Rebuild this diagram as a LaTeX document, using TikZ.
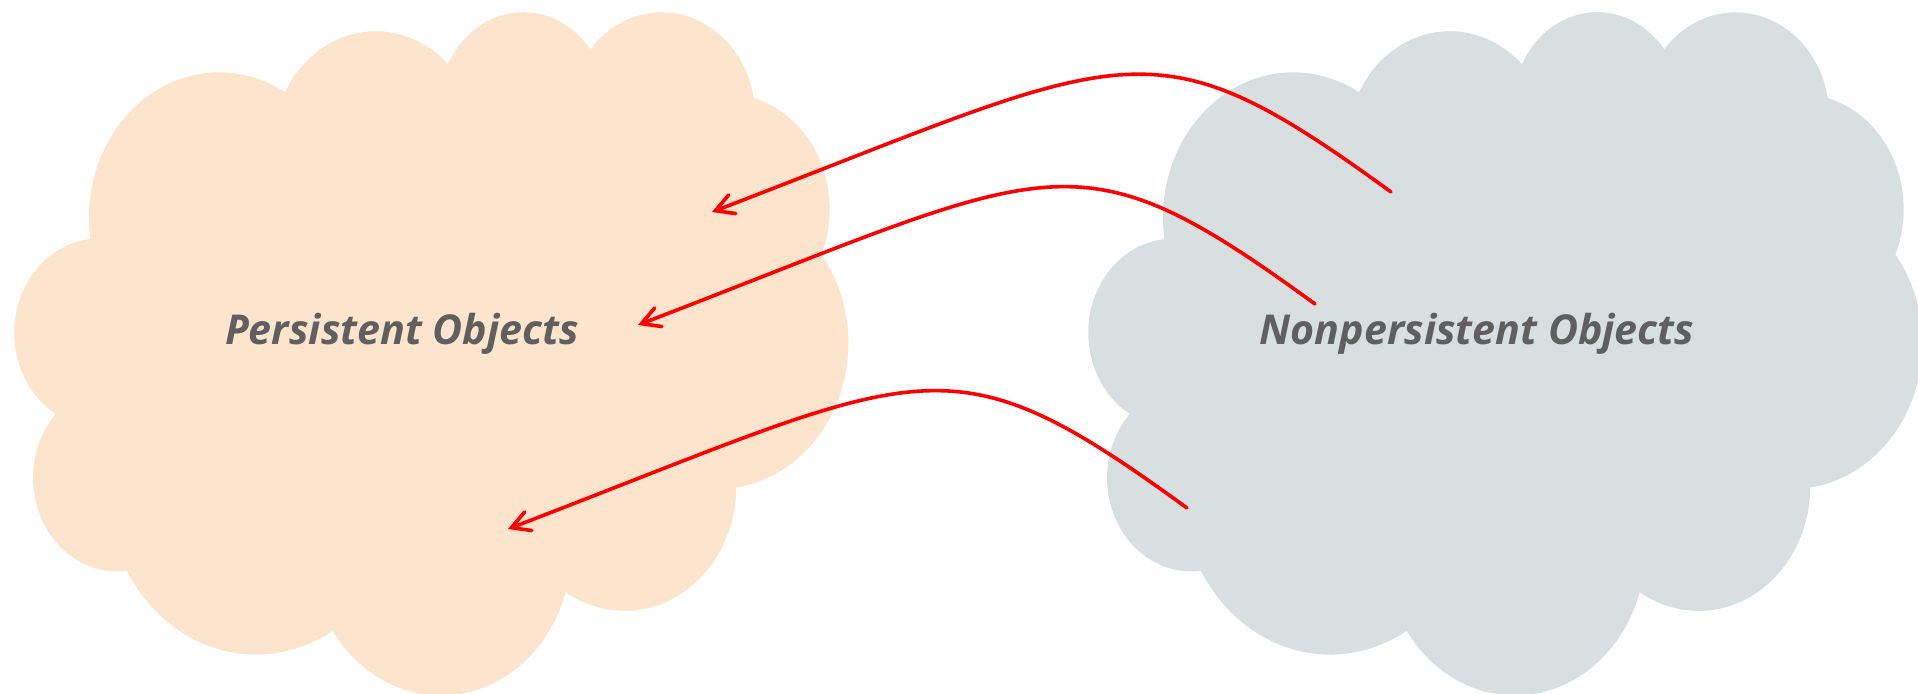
\documentclass[tikz,border=0pt]{standalone}
\usepackage{fontspec}
\newfontfamily\labelfont{Open Sans}
\usetikzlibrary{arrows.meta}

\definecolor{peach}{HTML}{FDE4CD}
\definecolor{mist}{HTML}{D7DFE1}
\definecolor{labelgray}{HTML}{5F5F5F}
\definecolor{linkred}{HTML}{FF0000}

% Cloud outline: eleven elliptical lobes. Each lobe is given by its radii and
% by start/sweep angles measured as directions from the lobe centre; these are
% turned into the parametric angles that TikZ's arc expects.
\makeatletter
\newcommand\cloudarcdef[5]{%
  \pgfmathsetmacro\cld@s{atan2(#2*sin(#4),#3*cos(#4))}%
  \pgfmathsetmacro\cld@e{atan2(#2*sin(#4+#5),#3*cos(#4+#5))}%
  \pgfmathsetmacro\cld@d{mod(\cld@e-\cld@s+720,360)}%
  \expandafter\let\csname clds#1\endcsname\cld@s
  \expandafter\let\csname cldd#1\endcsname\cld@d
}
\makeatother
\cloudarcdef{a}{67.53}{91.90}{-190.48748}{123.78053}
\cloudarcdef{b}{53.33}{72.67}{-144.10238}{89.94523}
\cloudarcdef{c}{43.65}{59.45}{-145.80792}{99.72302}
\cloudarcdef{d}{48.57}{65.95}{-130.98607}{117.24173}
\cloudarcdef{e}{53.33}{72.73}{-78.70888}{109.02692}
\cloudarcdef{f}{67.75}{92.20}{-46.26725}{130.26900}
\cloudarcdef{g}{57.85}{78.67}{0.62502}{114.03333}
\cloudarcdef{h}{67.52}{92.15}{22.45160}{115.17255}
\cloudarcdef{i}{77.20}{105.43}{66.24263}{75.71102}
\cloudarcdef{j}{43.60}{59.18}{-274.94208}{146.73557}
\cloudarcdef{k}{43.45}{59.45}{-246.82850}{152.51885}

% the cloud in a 432 x 432 frame, y pointing down
\newcommand\cloudpath{(39,143.70)
  arc[start angle=\cldsa, delta angle=\cldda, x radius=67.53, y radius=91.90]
  arc[start angle=\cldsb, delta angle=\clddb, x radius=53.33, y radius=72.67]
  arc[start angle=\cldsc, delta angle=\clddc, x radius=43.65, y radius=59.45]
  arc[start angle=\cldsd, delta angle=\clddd, x radius=48.57, y radius=65.95]
  arc[start angle=\cldse, delta angle=\cldde, x radius=53.33, y radius=72.73]
  arc[start angle=\cldsf, delta angle=\clddf, x radius=67.75, y radius=92.20]
  arc[start angle=\cldsg, delta angle=\clddg, x radius=57.85, y radius=78.67]
  arc[start angle=\cldsh, delta angle=\clddh, x radius=67.52, y radius=92.15]
  arc[start angle=\cldsi, delta angle=\clddi, x radius=77.20, y radius=105.43]
  arc[start angle=\cldsj, delta angle=\clddj, x radius=43.60, y radius=59.18]
  arc[start angle=\cldsk, delta angle=\clddk, x radius=43.45, y radius=59.45]
  -- cycle}

\tikzset{
  cloudlabel/.style={anchor=base, inner sep=0pt, text=labelgray,
    font=\labelfont\bfseries\itshape\fontsize{20.6}{24}\selectfont},
  link/.style={draw=linkred, line width=1.8pt, line cap=round, line join=round,
    -{Straight Barb[length=9pt,width=10pt,line cap=round]}},
}

\begin{document}
\begin{tikzpicture}[x=0.5pt, y=-0.5pt]
  % page area, 1918 x 694 units
  \fill[white] (0,0) rectangle (1918,694);
  \useasboundingbox (0,0) rectangle (1918,694);

  % clouds (frame 833 x 683 units)
  \begin{scope}[shift={(15,10)}, x=0.9641pt, y=-0.7905pt]
    \fill[peach] \cloudpath;
  \end{scope}
  \begin{scope}[shift={(1089,10)}, x=0.9641pt, y=-0.7905pt]
    \fill[mist] \cloudpath;
  \end{scope}

  % labels
  \node[cloudlabel] (persist) at (402,345) {Persistent Objects};
  \node[cloudlabel] (nonpersist) at (1477,345) {Nonpersistent Objects};

  % link end points
  \coordinate (s1) at (1391,192);
  \coordinate (t1) at (712,212);
  \coordinate (s2) at (1315,304);
  \coordinate (t2) at (638,325);
  \coordinate (s3) at (1187,508);
  \coordinate (t3) at (508,529);

  % links from the nonpersistent cloud into the persistent one
  \foreach \k in {1,2,3}
    \draw[link] (s\k) .. controls +(-243,-177) and +(420,-161) .. (t\k);
\end{tikzpicture}
\end{document}
